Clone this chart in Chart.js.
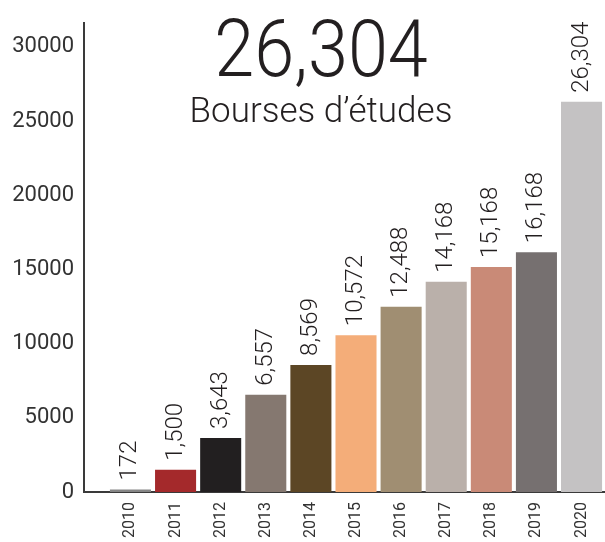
<!DOCTYPE html>
<html>
<head>
<meta charset="utf-8">
<script src="https://cdn.jsdelivr.net/npm/chart.js@4/dist/chart.umd.min.js"></script>
<style>
  html, body { margin: 0; padding: 0; background: #fff; }
  #wrap { width: 605px; height: 542px; }
</style>
</head>
<body>
<div id="wrap"><canvas id="bourses" width="605" height="542"></canvas></div>
<script>
// values
const years = [2010, 2011, 2012, 2013, 2014, 2015, 2016, 2017, 2018, 2019, 2020];
const bourses = [172, 1500, 3643, 6557, 8569, 10572, 12488, 14168, 15168, 16168, 26304];
const barColors = [
  "#868686", "#a4292b", "#221f20", "#857870", "#5c4625", "#f4ad79",
  "#a08e72", "#bab0aa", "#c98a77", "#767070", "#c4c2c3",
];
const yTicks = [0, 5000, 10000, 15000, 20000, 25000, 30000];
const headline = "26,304";
const subline = "Bourses d\u2019études";

const ink = "#231f20";

// big number + caption over the plot
const headerPlugin = {
  id: "header",
  afterDraw(chart) {
    const ctx = chart.ctx;
    ctx.save();
    ctx.fillStyle = ink;
    ctx.textAlign = "center";
    ctx.textBaseline = "alphabetic";
    ctx.translate(321, 76);
    ctx.scale(0.9, 1);
    ctx.font = "300 80px Roboto";
    ctx.fillText(headline, 0, 0);
    ctx.restore();

    ctx.save();
    ctx.fillStyle = ink;
    ctx.textAlign = "center";
    ctx.font = "300 35px Roboto";
    ctx.fillText(subline, 321, 122);
    ctx.restore();
  },
};

// vertical value labels above each bar
const valueLabels = {
  id: "valueLabels",
  afterDatasetsDraw(chart) {
    const ctx = chart.ctx;
    const meta = chart.getDatasetMeta(0);
    ctx.save();
    ctx.fillStyle = ink;
    ctx.font = "300 24px Roboto";
    ctx.textAlign = "left";
    ctx.textBaseline = "middle";
    meta.data.forEach((bar, i) => {
      ctx.save();
      ctx.translate(bar.x, bar.y - 9);
      ctx.rotate(-Math.PI / 2);
      ctx.fillText(bourses[i].toLocaleString("en-US"), 0, 0);
      ctx.restore();
    });
    ctx.restore();
  },
};

new Chart(document.getElementById("bourses"), {
  type: "bar",
  data: {
    labels: years,
    datasets: [
      {
        data: bourses,
        backgroundColor: barColors,
        borderWidth: 0,
        categoryPercentage: 1,
        barPercentage: 0.91,
      },
    ],
  },
  options: {
    responsive: false,
    animation: false,
    layout: { padding: { top: 18, right: 0, left: 0, bottom: 0 } },
    plugins: {
      legend: { display: false },
      tooltip: { enabled: false },
    },
    scales: {
      x: {
        type: "linear",
        offset: false,
        min: 2008.97,
        max: 2020.52,
        afterBuildTicks: (axis) => {
          axis.ticks = years.map((y) => ({ value: y }));
        },
        afterFit: (axis) => {
          axis.height = 50;
          axis.paddingLeft = 0;
          axis.paddingRight = 0;
        },
        grid: { display: false, drawTicks: false, offset: false },
        border: { display: true, color: "#3a3a3a", width: 2 },
        ticks: {
          autoSkip: false,
          minRotation: 90,
          maxRotation: 90,
          padding: 10,
          color: "#333",
          font: { family: "Roboto", size: 16 },
          callback: (v) => String(v),
        },
      },
      y: {
        min: 0,
        max: 31600,
        afterBuildTicks: (axis) => {
          axis.ticks = yTicks.map((v) => ({ value: v }));
        },
        afterFit: (axis) => {
          axis.width = 84;
        },
        grid: { display: false, drawTicks: false },
        border: { display: true, color: "#3a3a3a", width: 2 },
        ticks: {
          padding: 10,
          color: "#333",
          font: { family: "Roboto", size: 22 },
          callback: (v) => String(v),
        },
      },
    },
  },
  plugins: [headerPlugin, valueLabels],
});
</script>
</body>
</html>
